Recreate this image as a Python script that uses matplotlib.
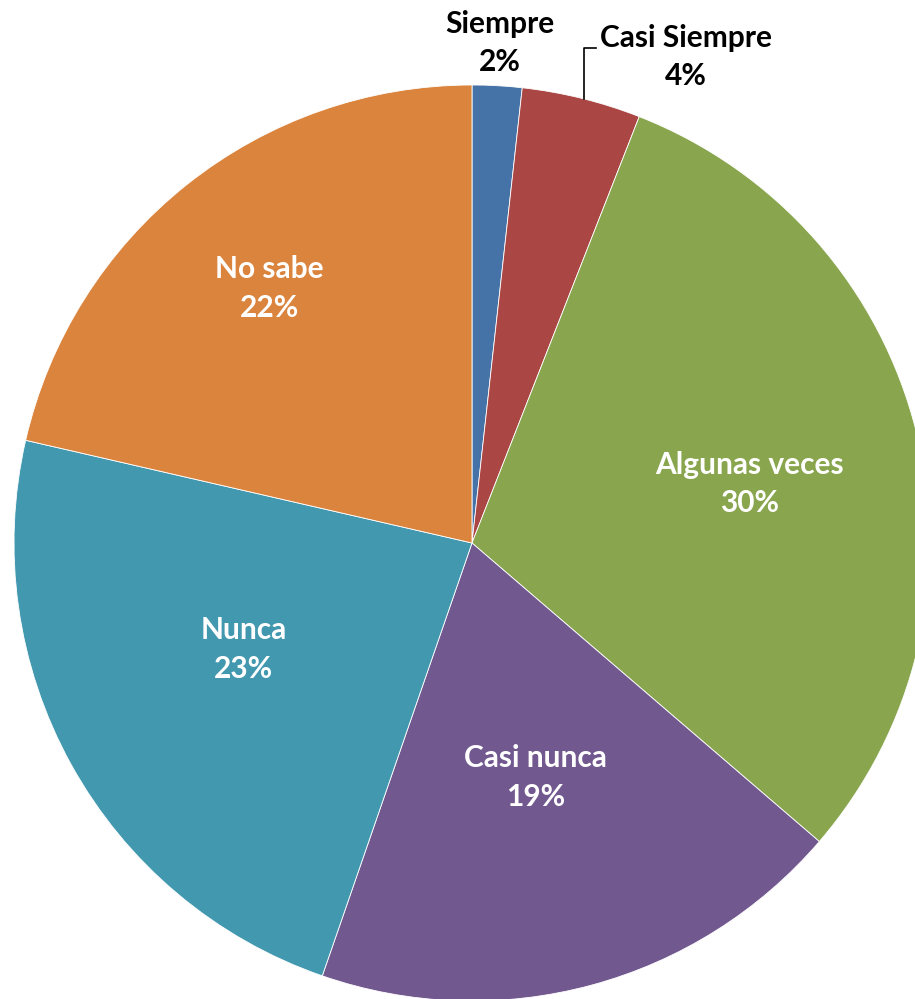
import numpy as np
import matplotlib.pyplot as plt

# wedge data (clockwise from 12 o'clock)
categories = ['Siempre', 'Casi Siempre', 'Algunas veces', 'Casi nunca', 'Nunca', 'No sabe']
shares = [1.75, 4.2, 30.35, 19.0, 23.3, 21.4]
pct_labels = ['2%', '4%', '30%', '19%', '23%', '22%']
colors = ['#4572A7', '#AA4643', '#89A54E', '#71588F', '#4198AF', '#DB843D']

W, H = 915, 999
cx, cy, R = 472, 543, 458  # pixel centre / radius

fig = plt.figure(figsize=(W / 100, H / 100), dpi=100)
ax = fig.add_axes([0, 0, 1, 1])
ax.pie(shares, colors=colors, startangle=90, counterclock=False,
       radius=1.0, wedgeprops=dict(linewidth=0.6, edgecolor='white'))
ax.set_xlim(-cx / R, (W - cx) / R)
ax.set_ylim(-(H - cy) / R, cy / R)
ax.set_aspect('auto')
ax.axis('off')

font = ['Lato', 'DejaVu Sans']
fs = 21.5
ls = 1.45

# angle of each wedge middle, clockwise from top
cum = np.cumsum(shares) / np.sum(shares)
start = np.concatenate([[0], cum[:-1]])
mid = (start + cum) / 2 * 2 * np.pi

# inside labels: (radius fraction, angle nudge in degrees)
inside = {2: (0.62, 2.0), 3: (0.53, 0.0), 4: (0.55, 4.0), 5: (0.71, 0.0)}
for i, (r, nudge) in inside.items():
    a = mid[i] + np.radians(nudge)
    ax.text(r * np.sin(a), r * np.cos(a), categories[i] + '\n' + pct_labels[i],
            ha='center', va='center', color='white', fontsize=fs,
            fontweight='bold', family=font, linespacing=ls)

# outside labels for the two small wedges
ax.text((500 - cx) / R, (cy - 43) / R, categories[0] + '\n' + pct_labels[0], ha='center',
        va='center', color='black', fontsize=fs, fontweight='bold', family=font, linespacing=ls)
ax.text((686 - cx) / R, (cy - 57) / R, categories[1] + '\n' + pct_labels[1], ha='center',
        va='center', color='black', fontsize=fs, fontweight='bold', family=font, linespacing=ls)

# leader line for Casi Siempre
lx = (584 - cx) / R
ly = np.sqrt(1 - lx ** 2)
ax.plot([lx, lx, (596 - cx) / R], [ly, (cy - 48) / R, (cy - 48) / R], color='black', lw=1.2)

fig.savefig('out.png', dpi=100)
